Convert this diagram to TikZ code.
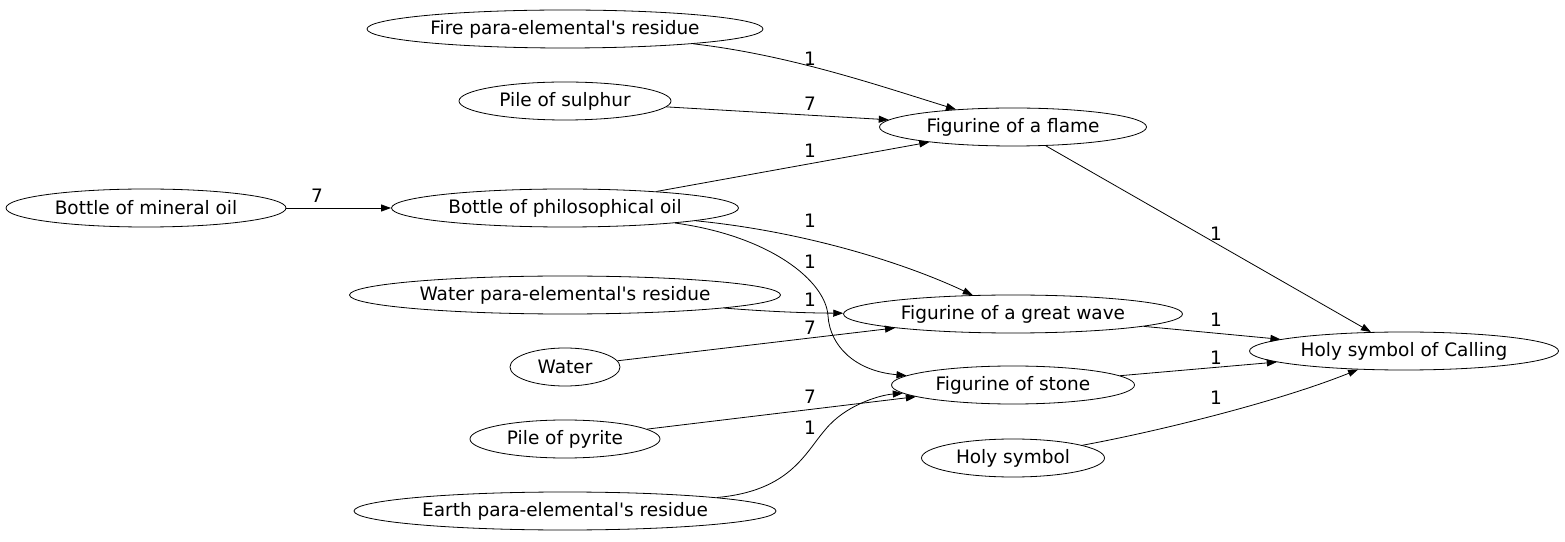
\documentclass[tikz,border=0pt]{standalone}
\usepackage{fontspec}
\setmainfont{DejaVu Sans}
\usetikzlibrary{shapes.geometric,arrows.meta}

\tikzset{
    obj/.style={draw, ellipse, inner sep=0pt, minimum height=38pt, line width=0.8pt},
    qty/.style={inner sep=0pt},
    link/.style={line width=0.8pt, -{Triangle[length=10pt,width=7pt]}}
}

\begin{document}
\begin{tikzpicture}[x=1pt, y=1pt, font=\fontsize{18.5}{21}\selectfont]
    \useasboundingbox (0,0) rectangle (1565,541);

    % ingredients
    \node[obj, minimum width=396pt] (fire)     at (565,512) {Fire para-elemental\textquotesingle s residue};
    \node[obj, minimum width=212pt] (sulphur)  at (565,440) {Pile of sulphur};
    \node[obj, minimum width=280pt] (mineral)  at (146,333) {Bottle of mineral oil};
    \node[obj, minimum width=347pt] (philo)    at (565,333) {Bottle of philosophical oil};
    \node[obj, minimum width=431pt] (waterres) at (565,246) {Water para-elemental\textquotesingle s residue};
    \node[obj, minimum width=110pt] (water)    at (565,174) {Water};
    \node[obj, minimum width=190pt] (pyrite)   at (565,102) {Pile of pyrite};
    \node[obj, minimum width=422pt] (earth)    at (565,30)  {Earth para-elemental\textquotesingle s residue};

    % figurines
    \node[obj, minimum width=267pt] (flame)    at (1013,414) {Figurine of a flame};
    \node[obj, minimum width=339pt] (wave)     at (1013,227) {Figurine of a great wave};
    \node[obj, minimum width=243pt] (stone)    at (1013,156) {Figurine of stone};
    \node[obj, minimum width=183pt] (holy)     at (1013,83)  {Holy symbol};

    \node[obj, minimum width=309pt] (calling)  at (1404,190) {Holy symbol of Calling};

    % quantities
    \node[qty] (q1)  at (810,482)  {1};
    \node[qty] (q2)  at (810,437)  {7};
    \node[qty] (q3)  at (810,390)  {1};
    \node[qty] (q4)  at (317,345)  {7};
    \node[qty] (q5)  at (810,320)  {1};
    \node[qty] (q6)  at (810,279)  {1};
    \node[qty] (q7)  at (810,241)  {1};
    \node[qty] (q8)  at (810,213)  {7};
    \node[qty] (q9)  at (810,144)  {7};
    \node[qty] (q10) at (810,113)  {1};
    \node[qty] (q11) at (1216,307) {1};
    \node[qty] (q12) at (1216,221) {1};
    \node[qty] (q13) at (1216,183) {1};
    \node[qty] (q14) at (1216,143) {1};

    \draw [link] (fire) .. controls (790,486) and (880,455) .. (flame);
    \draw [link] (sulphur) -- (flame);
    \draw [link] (philo) -- (flame);
    \draw [link] (mineral) -- (philo);
    \draw [link] (philo) .. controls (800,310) and (900,280) .. (wave);
    \draw [link] (philo) .. controls (770,305) and (826,260) .. (828,225)
                         .. controls (830,195) and (855,170) .. (stone);
    \draw [link] (waterres) .. controls (760,230) and (800,228) .. (wave);
    \draw [link] (water) -- (wave);
    \draw [link] (pyrite) -- (stone);
    \draw [link] (earth) .. controls (790,50) and (805,88) .. (825,111)
                         .. controls (845,136) and (880,146) .. (stone);

    \draw [link] (flame) -- (calling);
    \draw [link] (wave) -- (calling);
    \draw [link] (stone) -- (calling);
    \draw [link] (holy) .. controls (1160,110) and (1280,140) .. (calling);
\end{tikzpicture}
\end{document}
